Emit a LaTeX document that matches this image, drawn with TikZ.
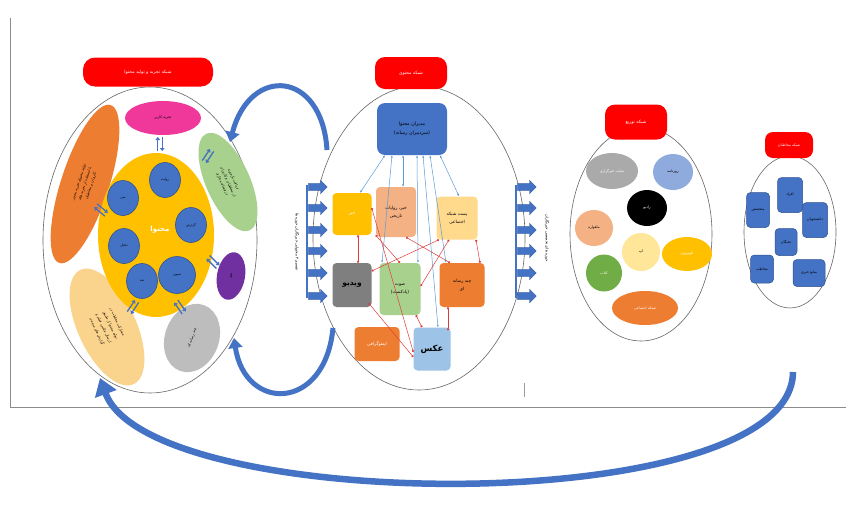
\documentclass[tikz,border=0pt]{standalone}
\usepackage{fontspec}
\usetikzlibrary{arrows.meta,shapes.geometric,shapes.arrows}
\newfontfamily\arabicfont[Script=Arabic]{DejaVu Sans}
\TeXXeTstate=1
\newcommand\RL[1]{\beginR #1\endR}
\definecolor{blueC}{HTML}{4472C4}
\definecolor{blueD}{HTML}{2F528F}
\definecolor{pinkE}{HTML}{F0389B}
\definecolor{orangeE}{HTML}{ED7D31}
\definecolor{greenE}{HTML}{A9D18E}
\definecolor{purpleE}{HTML}{7030A0}
\definecolor{grayE}{HTML}{BDBDBD}
\definecolor{paleO}{HTML}{FAD38C}
\definecolor{yellowE}{HTML}{FFC000}
\definecolor{salmonE}{HTML}{F4B183}
\definecolor{peachE}{HTML}{FFD98C}
\definecolor{videoG}{HTML}{7F7F7F}
\definecolor{lblue}{HTML}{9DC3E6}
\definecolor{lineB}{HTML}{5B9BD5}
\definecolor{lineR}{HTML}{E03C3C}
\definecolor{skyE}{HTML}{8FAADC}
\definecolor{lyel}{HTML}{FFE699}
\definecolor{greenD}{HTML}{70AD47}
\newcommand\dblarr[3]{\begin{scope}[shift={(#1,#2)},rotate=#3]\draw[dbl](-7,-2.2)--(7,-2.2);\draw[dbl](7,2.2)--(-7,2.2);\end{scope}}
\begin{document}
\begin{tikzpicture}[x=1pt,y=-1pt,
 outer/.style={ellipse, draw=black!60, line width=0.6pt, inner sep=0pt},
 ttl/.style={fill=red, text=white, inner sep=0pt, font=\arabicfont\fontsize{4.5}{5}\selectfont},
 ell/.style={ellipse, inner sep=0pt, align=center, font=\arabicfont\fontsize{3.6}{6.2}\selectfont},
 bc/.style={ellipse, fill=blueC, draw=blueD, line width=0.6pt, inner sep=0pt, font=\arabicfont\fontsize{3.2}{4}\selectfont},
 mb/.style={rectangle, rounded corners=4pt, inner sep=0pt, align=center, font=\arabicfont\fontsize{4.4}{8}\selectfont},
 ab/.style={rectangle, rounded corners=4pt, fill=blueC, draw=blueD, line width=0.5pt, inner sep=0pt, font=\arabicfont\fontsize{3.6}{4}\selectfont},
 dbl/.style={draw=blueC, line width=1.3pt, -{Triangle[length=3pt,width=4.5pt]}},
 bl/.style={draw=lineB, line width=0.5pt, {Latex[length=2.5pt,width=2pt]}-{Latex[length=2.5pt,width=2pt]}},
 rl/.style={draw=lineR, line width=0.5pt, {Circle[length=2.2pt]}-{Circle[length=2.2pt]}},
 barr/.style={single arrow, fill=blueC, draw=blueD, line width=0.3pt, minimum height=19pt, inner xsep=0pt, inner ysep=3.4pt, single arrow head extend=3.2pt, single arrow head indent=0pt},
 carr/.style={draw=blueC, line width=5pt, -{Triangle[length=10pt,width=14pt]}},
]
\useasboundingbox (0,0) rectangle (846,504);
\fill[white] (0,0) rectangle (846,504);
% frame
\draw[black!45, line width=0.8pt] (10,18) -- (10,407) -- (846,407);
\draw[black!40, line width=0.6pt] (524,383) -- (524,397);

% ================= left group
\node[outer, minimum width=214, minimum height=306] (e1) at (150,240) {};
\node[ttl, rounded corners=12pt, minimum width=130, minimum height=29] (t1) at (148,72) {\RL{شبکه تجربه و تولید محتوا}};
\node[ell, fill=pinkE, minimum width=76, minimum height=34] (pink) at (163,118) {\RL{تجربه کاربر}};
\node[ell, fill=orangeE, rotate=72, minimum width=166, minimum height=48] (org) at (85,184) {\RL{تولید محتوای تجربه محور}\\\RL{با استفاده از تجربه های}\\\RL{کاربران و مخاطبان}};
\node[ell, fill=greenE, rotate=-66, minimum width=106, minimum height=44] (grn) at (228,182) {\RL{دریافت بازخورد}\\\RL{از مخاطبان و کاربران}\\\RL{در فضای مجازی}};
\node[ell, fill=purpleE, rotate=80, minimum width=48, minimum height=28] (pur) at (231,276) {\RL{نقد}};
\node[ell, fill=grayE, rotate=70, minimum width=70, minimum height=54] (gry) at (192,338) {\RL{چند رسانه ای}};
\node[ell, fill=paleO, rotate=-65, minimum width=126, minimum height=58, font=\arabicfont\fontsize{3.6}{7.5}\selectfont] (pal) at (107,327) {\RL{مشارکت مخاطب در}\\\RL{تولید محتوا از طریق}\\\RL{ارسال عکس، فیلم و}\\\RL{گزارش های مردمی}};
\node[ellipse, fill=yellowE, inner sep=0pt, minimum width=116, minimum height=164] (yel) at (156,235) {};
\node[text=white, font=\arabicfont\bfseries\fontsize{7}{8}\selectfont] (mt) at (160,230) {\RL{محتوا}};
\node[bc, minimum width=31, minimum height=35] (c1) at (165,180) {\RL{روایت}};
\node[bc, minimum width=31, minimum height=35] (c2) at (123,198) {\RL{متن}};
\node[bc, minimum width=31, minimum height=35] (c3) at (191,225) {\RL{گزارش}};
\node[bc, minimum width=31, minimum height=35] (c4) at (124,246) {\RL{تحلیل}};
\node[bc, minimum width=31, minimum height=35] (c5) at (142,281) {\RL{نقد}};
\node[bc, minimum width=37, minimum height=37] (c6) at (177,275) {\RL{تصویر}};
\dblarr{160}{144}{90}
\dblarr{101}{210}{-40}
\dblarr{208}{156}{56}
\dblarr{213}{262}{-45}
\dblarr{180}{307}{-55}
\dblarr{133}{307}{56}

% ================= middle group
\node[outer, minimum width=212, minimum height=304] (e2) at (419,238) {};
\node[ttl, rounded corners=10pt, minimum width=72, minimum height=32] (t2) at (411,73) {\RL{شبکه محتوی}};
\node[mb, fill=blueC, minimum width=70, minimum height=52, rounded corners=8pt, font=\arabicfont\fontsize{4.8}{9}\selectfont] (tb) at (412,129) {\RL{مدیران محتوا}\\\RL{(سردبیران رسانه)}};
\node[mb, fill=yellowE, text=white, minimum width=39, minimum height=42] (khabar) at (352,214) {\RL{خبر}};
\node[mb, fill=salmonE, minimum width=40, minimum height=50] (rav) at (396,212) {\RL{خبر، روایات}\\\RL{تاریخی}};
\node[mb, fill=peachE, minimum width=41, minimum height=43] (post) at (457,218) {\RL{پست شبکه}\\\RL{اجتماعی}};
\node[mb, fill=videoG, minimum width=39, minimum height=44, font=\arabicfont\bfseries\fontsize{7.5}{8}\selectfont] (video) at (352,285) {\RL{ویدیو}};
\node[mb, fill=greenE, minimum width=41, minimum height=52] (sout) at (400,289) {\RL{صوت}\\\RL{(پادکست)}};
\node[mb, fill=orangeE, minimum width=45, minimum height=44] (chand) at (462,285) {\RL{چند رسانه}\\\RL{ای}};
\node[mb, fill=orangeE, text=white, minimum width=45, minimum height=34] (info) at (377,344) {\RL{اینفوگرافی}};
\node[mb, fill=lblue, minimum width=37, minimum height=43, font=\arabicfont\bfseries\fontsize{8.5}{9}\selectfont] (aks) at (432,349) {\RL{عکس}};
% blue links
\draw[bl] ([xshift=-27]tb.south) -- ([xshift=8]khabar.north);
\draw[bl] ([xshift=-20]tb.south) -- ([xshift=-18]sout.north);
\draw[bl] ([xshift=-9]tb.south) -- ([xshift=7]rav.north);
\draw[bl] ([xshift=5]tb.south) -- ([xshift=18]sout.north);
\draw[bl] ([xshift=11]tb.south) -- ([xshift=6]aks.north);
\draw[bl] ([xshift=18]tb.south) -- ([xshift=-16]chand.north);
\draw[bl] ([xshift=28]tb.south) -- ([xshift=2]post.north);
% red links
\draw[rl] ([xshift=6]khabar.south) -- ([xshift=6]video.north);
\draw[rl] ([yshift=6]khabar.east) -- ([yshift=-3]aks.west);
\draw[rl] ([xshift=4]khabar.south east) -- (sout.north);
\draw[rl] ([xshift=10]rav.south) -- ([xshift=-12]chand.north);
\draw[rl] ([xshift=-18]post.south) -- ([yshift=14]video.east);
\draw[rl] ([xshift=-8]post.south) -- ([yshift=3]sout.east);
\draw[rl] ([xshift=19]post.south) -- ([xshift=18]chand.north);
\draw[rl] ([xshift=-3,yshift=4]video.south east) -- ([yshift=-8]aks.west);
\draw[rl] ([xshift=16]sout.south) -- ([xshift=-10]aks.north);
\draw[rl] ([xshift=-14]chand.south) -- ([xshift=16,yshift=-3]aks.north);
% block arrows
\draw[blueC, line width=2pt] (307,185) -- (307,298);
\draw[blueC, line width=2pt] (516,185) -- (516,298);
\foreach \yy/\nm in {187/a,208/b,230/c,251/d,273/e,296/f}{
  \node[barr] (la\nm) at (316,\yy) {};
  \node[barr] (ra\nm) at (525,\yy) {};
}
\node[rotate=-90, font=\arabicfont\fontsize{3.8}{4}\selectfont] (lt) at (297,242) {\RL{تقسیم ۴ محتوایی خبرنگاران حوزه ها}};
\node[rotate=-90, font=\arabicfont\fontsize{3.8}{4}\selectfont] (rt) at (547,238) {\RL{حوزه های تخصصی خبرنگاران}};

% ================= distribution group
\node[outer, minimum width=142, minimum height=214] (e3) at (641,234) {};
\node[ttl, rounded corners=10pt, minimum width=62, minimum height=35] (t3) at (636,122) {\RL{شبکه توزیع}};
\node[ell, fill=grayE!90!black, text=white, minimum width=52, minimum height=36] (d1) at (612,171) {\RL{سایت خبرگزاری}};
\node[ell, fill=skyE, minimum width=40, minimum height=36] (d2) at (673,172) {\RL{روزنامه}};
\node[ell, fill=black, text=white, minimum width=40, minimum height=36] (d3) at (647,208) {\RL{رادیو}};
\node[ell, fill=salmonE, minimum width=38, minimum height=36] (d4) at (594,228) {\RL{ماهواره}};
\node[ell, fill=lyel, minimum width=38, minimum height=38] (d5) at (641,252) {\RL{اپ}};
\node[ell, fill=yellowE, text=white, minimum width=50, minimum height=34] (d6) at (687,254) {\RL{تلویزیون}};
\node[ell, fill=greenD, text=white, minimum width=36, minimum height=37] (d7) at (604,273) {\RL{کتاب}};
\node[ell, fill=orangeE, text=white, minimum width=66, minimum height=34] (d8) at (645,308) {\RL{شبکه اجتماعی}};

% ================= audience group
\node[outer, minimum width=92, minimum height=152] (e4) at (790,232) {};
\node[ttl, rounded corners=8pt, minimum width=48, minimum height=26, font=\arabicfont\fontsize{3.6}{4}\selectfont] (t4) at (789,145) {\RL{شبکه مخاطبان}};
\node[ab, minimum width=25, minimum height=35] (m1) at (790,195) {\RL{افراد}};
\node[ab, minimum width=23, minimum height=35] (m2) at (758,210) {\RL{متخصص}};
\node[ab, minimum width=25, minimum height=35] (m3) at (815,220) {\RL{دانشجویان}};
\node[ab, minimum width=22, minimum height=27] (m4) at (786,242) {\RL{نخبگان}};
\node[ab, minimum width=23, minimum height=28] (m5) at (762,269) {\RL{مخاطب}};
\node[ab, minimum width=32, minimum height=27] (m6) at (809,273) {\RL{منابع خبری}};

% ================= curved arrows
\coordinate (a1s) at (327,150);
\coordinate (a1e) at (230,142);
\coordinate (a2s) at (333,328);
\coordinate (a2e) at (234,338);
\coordinate (a3s) at (793,372);
\coordinate (a3e) at (100,378);
\draw[carr] (a1s) .. controls (322,70) and (250,65) .. (a1e);
\draw[carr] (a2s) .. controls (325,412) and (245,412) .. (a2e);
\draw[draw=blueC, line width=6.5pt, -{Triangle[length=17pt,width=22pt]}] (a3s) .. controls (792,520) and (150,515) .. (a3e);
\end{tikzpicture}
\end{document}
